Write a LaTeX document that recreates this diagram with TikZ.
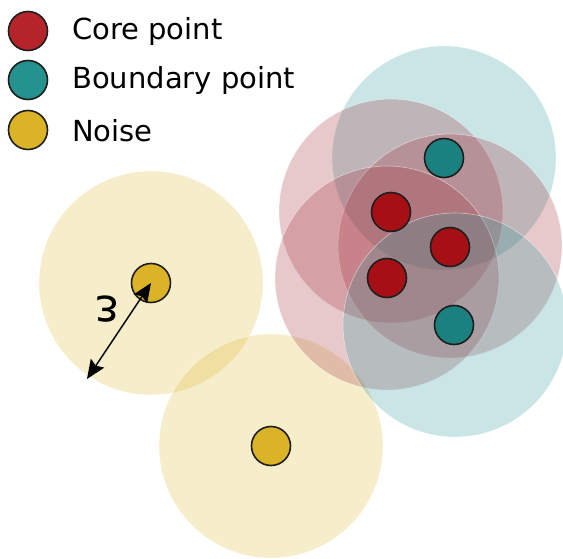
\documentclass[tikz,border=0pt]{standalone}
\usepackage{fontspec}
\setmainfont{DejaVu Sans}
\usetikzlibrary{arrows.meta}
\definecolor{coreleg}{RGB}{180,36,42}
\definecolor{bndleg}{RGB}{36,146,142}
\definecolor{noiseleg}{RGB}{218,180,38}
\definecolor{corept}{RGB}{166,16,20}
\definecolor{bndpt}{RGB}{26,128,128}
\definecolor{redzone}{RGB}{160,40,52}
\definecolor{tealzone}{RGB}{40,150,150}
\definecolor{noisezone}{RGB}{222,184,50}
\definecolor{rim}{RGB}{30,30,30}
\tikzset{
  zone/.style={circle, minimum size=224pt, inner sep=0pt, fill opacity=0.25, draw=white, draw opacity=0.5, line width=0.6pt},
  redz/.style={zone, fill=redzone},
  tealz/.style={zone, fill=tealzone},
  noisez/.style={zone, fill=noisezone, fill opacity=0.26},
  pt/.style={circle, minimum size=39pt, inner sep=0pt, draw=rim, line width=1.6pt},
  legpt/.style={pt, minimum size=39pt},
  legtext/.style={anchor=west, font=\fontsize{29}{34}\selectfont, inner sep=0pt},
  epsarrow/.style={line width=1.4pt, {Stealth[length=19pt,width=16pt,inset=3pt]}-{Stealth[length=19pt,width=16pt,inset=3pt]}}
}
\begin{document}
\begin{tikzpicture}[x=1pt,y=-1pt]
\useasboundingbox (0,0) rectangle (563,559);
% zones
\node[noisez] (nz1) at (151,283) {};
\node[noisez] (nz2) at (271,446) {};
\node[tealz] (tz1) at (444,158) {};
\node[redz] (rz1) at (391,211) {};
\node[redz] (rz2) at (450,246) {};
\node[redz] (rz3) at (387,278) {};
\node[tealz] (tz2) at (455,325) {};
% points
\node[pt, fill=noiseleg] (n1) at (151,283) {};
\node[pt, fill=noiseleg] (n2) at (271,446) {};
\node[pt, fill=bndpt] (b1) at (444,158) {};
\node[pt, fill=corept] (c1) at (391,212) {};
\node[pt, fill=corept] (c2) at (450,247) {};
\node[pt, fill=corept] (c3) at (387,278) {};
\node[pt, fill=bndpt] (b2) at (454,325) {};
% epsilon
\coordinate (epsend) at (87,379);
\path[draw, epsarrow] (epsend) -- (n1.center);
\node[font=\fontsize{46}{52}\selectfont, rotate=180, inner sep=0pt] (eps) at (107,309) {ε};
% legend
\node[legpt, fill=coreleg] (l1) at (28,31) {};
\node[legpt, fill=bndleg] (l2) at (28,80) {};
\node[legpt, fill=noiseleg] (l3) at (28,130) {};
\node[legtext] (t1) at (72,32) {Core point};
\node[legtext] (t2) at (72,81) {Boundary point};
\node[legtext] (t3) at (72,131) {Noise};
\end{tikzpicture}
\end{document}
